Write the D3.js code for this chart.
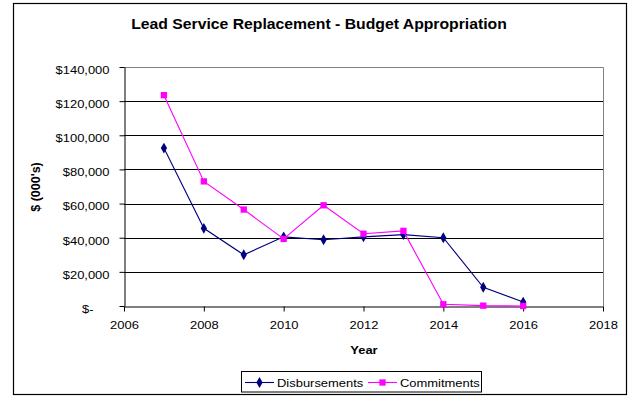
<!DOCTYPE html>
<html>
<head>
<meta charset="utf-8">
<script src="https://cdn.jsdelivr.net/npm/d3@7"></script>
<style>
  html, body { margin: 0; padding: 0; background: #fff; }
  svg { display: block; font-family: "Liberation Sans", Arial, sans-serif; }
</style>
</head>
<body>
<svg id="chart" width="632" height="396"></svg>
<script>
// Lead service replacement budget, in thousands of dollars
const years = [2007, 2008, 2009, 2010, 2011, 2012, 2013, 2014, 2015, 2016];
const disbursements = [92500, 45500, 30000, 40500, 38800, 40500, 41800, 40000, 11000, 2300];
const commitments = [123500, 73000, 56500, 39300, 59000, 42300, 44000, 1000, 200, 0];
const xTicks = [2006, 2008, 2010, 2012, 2014, 2016, 2018];
const yTicks = [0, 20000, 40000, 60000, 80000, 100000, 120000, 140000];

const WIDEN = 1.125; // horizontal widening of horizontal text

const svg = d3.select("#chart");

function widen(sel) {
  sel.each(function () {
    const w = this.getComputedTextLength();
    d3.select(this)
      .attr("textLength", w * WIDEN)
      .attr("lengthAdjust", "spacingAndGlyphs");
  });
  return sel;
}

// chart frame
svg.append("rect")
  .attr("x", 13.5).attr("y", 3.5).attr("width", 613).attr("height", 391)
  .attr("fill", "#fff").attr("stroke", "#000").attr("stroke-width", 1.2);

const plot = { left: 124, right: 603, top: 67, bottom: 306 };

const x = d3.scaleLinear().domain([2006, 2018]).range([plot.left, plot.right]);
const y = d3.scaleLinear().domain([0, 140000]).range([plot.bottom, plot.top]);

// plot area outline (grey top/right)
svg.append("path")
  .attr("d", `M${plot.left},${plot.top + 0.5}H${plot.right + 0.5}V${plot.bottom}`)
  .attr("fill", "none").attr("stroke", "#808080").attr("stroke-width", 1);

// horizontal gridlines
svg.append("g")
  .selectAll("line")
  .data(yTicks.filter(v => v > 0 && v < 140000))
  .join("line")
  .attr("x1", plot.left).attr("x2", plot.right)
  .attr("y1", d => Math.round(y(d)) + 0.5).attr("y2", d => Math.round(y(d)) + 0.5)
  .attr("stroke", "#000").attr("stroke-width", 1);

const fmt = v => v === 0 ? "$-" : "$" + d3.format(",")(v);

// y axis
const yAxis = svg.append("g")
  .attr("transform", `translate(${plot.left + 0.5},0)`)
  .call(d3.axisLeft(y).tickValues(yTicks).tickFormat(fmt).tickSize(5).tickPadding(10).tickSizeOuter(0));
yAxis.selectAll("path, line").attr("stroke", "#000");
yAxis.selectAll("text")
  .attr("font-size", 11.5).attr("fill", "#000")
  .attr("font-family", "Liberation Sans, Arial, sans-serif")
  .attr("dy", "0.55em")
  .attr("dx", d => d === 0 ? -16 : 0)
  .call(widen);

// x axis
const xAxis = svg.append("g")
  .attr("transform", `translate(0,${plot.bottom + 0.5})`)
  .call(d3.axisBottom(x).tickValues(xTicks).tickFormat(d3.format("d")).tickSize(5).tickPadding(9).tickSizeOuter(0));
xAxis.selectAll("path, line").attr("stroke", "#000");
xAxis.selectAll("text")
  .attr("font-size", 11.5).attr("fill", "#000")
  .attr("font-family", "Liberation Sans, Arial, sans-serif")
  .call(widen);

// title and axis titles
svg.append("text")
  .attr("x", 319).attr("y", 29)
  .attr("text-anchor", "middle")
  .attr("font-size", 14).attr("font-weight", "bold")
  .text("Lead Service Replacement - Budget Appropriation")
  .call(widen);

svg.append("text")
  .attr("transform", "translate(40,187) rotate(-90)")
  .attr("text-anchor", "middle")
  .attr("font-size", 12.5).attr("font-weight", "bold")
  .text("$ (000's)");

svg.append("text")
  .attr("x", 364).attr("y", 354)
  .attr("text-anchor", "middle")
  .attr("font-size", 11.5).attr("font-weight", "bold")
  .text("Year")
  .call(widen);

const series = [
  { name: "Disbursements", values: disbursements, color: "#000080", symbol: d3.symbolDiamond, size: 34 },
  { name: "Commitments", values: commitments, color: "#FF00FF", symbol: d3.symbolSquare, size: 40 }
];

const line = d3.line().x(d => x(d[0])).y(d => y(d[1]));

series.forEach(s => {
  const pts = years.map((yr, i) => [yr, s.values[i]]);
  svg.append("path")
    .datum(pts)
    .attr("d", line)
    .attr("fill", "none")
    .attr("stroke", s.color)
    .attr("stroke-width", 1.1);
  svg.append("g")
    .selectAll("path")
    .data(pts)
    .join("path")
    .attr("transform", d => `translate(${x(d[0])},${y(d[1])})`)
    .attr("d", d3.symbol().type(s.symbol).size(s.size))
    .attr("fill", s.color);
});

// legend
const legend = svg.append("g");
legend.append("rect")
  .attr("x", 241.5).attr("y", 371.5).attr("width", 240).attr("height", 20.5)
  .attr("fill", "#fff").attr("stroke", "#000").attr("stroke-width", 1);

const legendItems = [
  { s: series[0], x0: 245, label: 277 },
  { s: series[1], x0: 368, label: 400 }
];
legendItems.forEach(item => {
  legend.append("line")
    .attr("x1", item.x0).attr("x2", item.x0 + 29)
    .attr("y1", 382.5).attr("y2", 382.5)
    .attr("stroke", item.s.color).attr("stroke-width", 1.1);
  legend.append("path")
    .attr("transform", `translate(${item.x0 + 14.5},382.5)`)
    .attr("d", d3.symbol().type(item.s.symbol).size(item.s.size))
    .attr("fill", item.s.color);
  legend.append("text")
    .attr("x", item.label).attr("y", 387)
    .attr("font-size", 11.5)
    .text(item.s.name)
    .call(widen);
});
</script>
</body>
</html>
